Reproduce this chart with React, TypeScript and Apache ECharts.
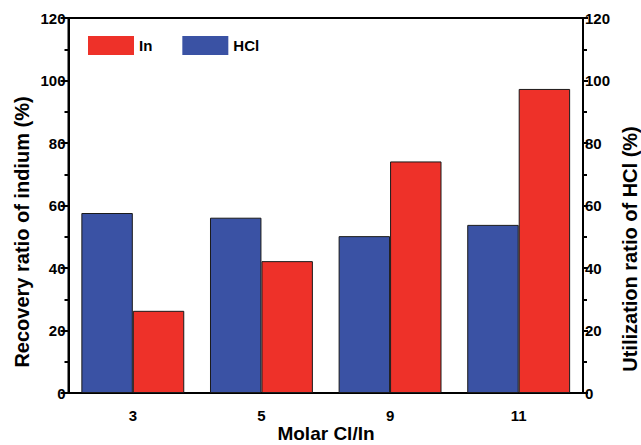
import React, { useEffect, useRef } from "react";
import * as echarts from "echarts";

const categories = ["3", "5", "9", "11"];
const hclValues = [57.6, 56.1, 50.2, 53.8];
const inValues = [26.3, 42.2, 74.1, 97.3];
const yTicks = { min: 0, max: 120, interval: 20 };

const FONT = "Liberation Sans";
const BLUE = "#3A52A4";
const RED = "#EE3129";

export default function App() {
  const ref = useRef<HTMLDivElement>(null);
  useEffect(() => {
    if (!ref.current) return;
    const chart = echarts.init(ref.current, undefined, { renderer: "svg" });
    const labelStyle = { color: "#000", fontSize: 15, fontWeight: "bold", fontFamily: FONT };
    const yAxisBase = (position: "left" | "right", tickLen: number) => ({
      type: "value",
      position,
      min: yTicks.min,
      max: yTicks.max,
      interval: yTicks.interval,
      axisLine: { show: true, lineStyle: { color: "#000", width: 2 } },
      axisTick: { show: true, length: tickLen, lineStyle: { color: "#000", width: 2 } },
      minorTick: { show: true, splitNumber: 2, length: 4, lineStyle: { color: "#000", width: 2 } },
      splitLine: { show: false },
      axisLabel: { ...labelStyle, margin: position === "left" ? 3 : 2 },
    });
    chart.setOption({
      animation: false,
      backgroundColor: "#fff",
      grid: {
        left: 68.5,
        right: 58,
        top: 18,
        bottom: 52,
        outerBoundsMode: "none",
        containLabel: false,
        show: true,
        borderColor: "#000",
        borderWidth: 2,
        backgroundColor: "transparent",
      },
      legend: {
        data: ["In", "HCl"],
        left: 83,
        top: 31,
        icon: "rect",
        itemWidth: 46,
        itemHeight: 19,
        itemGap: 30,
        textStyle: { color: "#000", fontSize: 15, fontWeight: "bold", fontFamily: FONT },
        itemStyle: { borderWidth: 0 },
      },
      xAxis: {
        type: "category",
        data: categories,
        axisLine: { show: true, lineStyle: { color: "#000", width: 2 } },
        axisTick: { show: false },
        axisLabel: { ...labelStyle, margin: 15 },
      },
      yAxis: [yAxisBase("left", 8), yAxisBase("right", 5)],
      series: [
        {
          name: "HCl",
          type: "bar",
          data: hclValues,
          yAxisIndex: 1,
          barGap: "0%",
          barCategoryGap: "20%",
          itemStyle: { color: BLUE, borderColor: "#1a1a1a", borderWidth: 1 },
        },
        {
          name: "In",
          type: "bar",
          data: inValues,
          yAxisIndex: 0,
          barGap: "0%",
          barCategoryGap: "20%",
          itemStyle: { color: RED, borderColor: "#1a1a1a", borderWidth: 1 },
        },
      ],
      graphic: [
        {
          type: "text",
          x: 326,
          y: 433,
          style: {
            text: "Molar Cl/In",
            align: "center",
            verticalAlign: "middle",
            fill: "#000",
            fontSize: 19,
            fontWeight: "bold",
            fontFamily: FONT,
          },
        },
        {
          type: "text",
          x: 22,
          y: 232,
          rotation: Math.PI / 2,
          style: {
            text: "Recovery ratio of indium (%)",
            align: "center",
            verticalAlign: "middle",
            fill: "#000",
            fontSize: 20,
            fontWeight: "bold",
            fontFamily: FONT,
          },
        },
        {
          type: "text",
          x: 630,
          y: 249,
          rotation: Math.PI / 2,
          style: {
            text: "Utilization ratio of HCl (%)",
            align: "center",
            verticalAlign: "middle",
            fill: "#000",
            fontSize: 20,
            fontWeight: "bold",
            fontFamily: FONT,
          },
        },
      ],
    });
    return () => chart.dispose();
  }, []);
  return <div ref={ref} style={{ width: 641, height: 445, position: "absolute", left: 0, top: 0 }} />;
}
